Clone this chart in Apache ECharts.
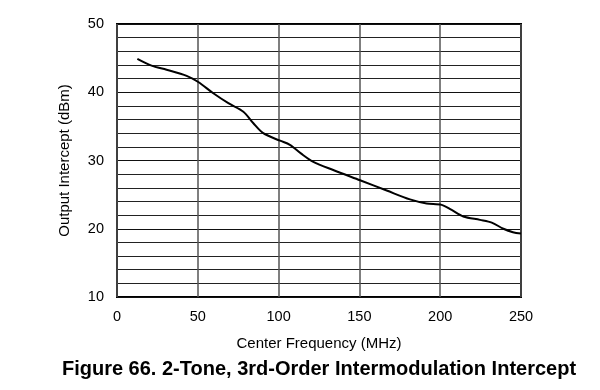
<!DOCTYPE html>
<html><head><meta charset="utf-8">
<script src="https://cdn.jsdelivr.net/npm/echarts@6/dist/echarts.min.js"></script>
<style>html,body{margin:0;padding:0;background:#fff}#c{width:600px;height:390px}</style>
</head><body><div id="c"></div>
<script>
const freqMHz = [12.6, 21.4, 30.7, 43.1, 50.3, 59.6, 68.9, 78.2, 84.4, 90.5, 100.9, 107, 114, 121.5, 133.8, 150.4, 166.9, 181.3, 191.6, 200.9, 207.1, 214.3, 224.6, 231.9, 239.1, 245, 250];
const interceptDbm = [44.9, 43.9, 43.3, 42.4, 41.5, 39.85, 38.4, 37.15, 35.45, 34.0, 32.9, 32.3, 31.0, 29.8, 28.6, 27.1, 25.6, 24.3, 23.7, 23.5, 22.75, 21.8, 21.3, 20.9, 20.0, 19.5, 19.3];
const xTicks = [0, 50, 100, 150, 200, 250];
const yTicks = [10, 20, 30, 40, 50];

const chart = echarts.init(document.getElementById('c'), null, {renderer: 'canvas'});
const font = 'Liberation Sans, Arial, sans-serif';
chart.setOption({
  animation: false,
  title: {
    text: 'Figure 66. 2-Tone, 3rd-Order Intermodulation Intercept',
    left: 314, top: 354, textAlign: 'center',
    textStyle: {fontFamily: font, fontSize: 20, fontWeight: 'bold', color: '#000'}
  },
  grid: {left: 117, right: 79, top: 24, bottom: 93, show: true, borderColor: '#000', borderWidth: 2, backgroundColor: 'transparent'},
  xAxis: {
    type: 'value', min: xTicks[0], max: xTicks[xTicks.length - 1], interval: 50,
    name: 'Center Frequency (MHz)', nameLocation: 'middle', nameGap: 39,
    nameTextStyle: {fontFamily: font, fontSize: 15, color: '#000'},
    axisLine: {show: false}, axisTick: {show: false},
    axisLabel: {fontFamily: font, fontSize: 14.5, color: '#000', margin: 12},
    splitLine: {show: true, lineStyle: {color: '#555', width: 1.5}}
  },
  yAxis: {
    type: 'value', min: yTicks[0], max: yTicks[yTicks.length - 1], interval: 10,
    name: 'Output Intercept (dBm)', nameLocation: 'middle', nameGap: 45,
    nameTextStyle: {fontFamily: font, fontSize: 15, color: '#000'},
    axisLine: {show: false}, axisTick: {show: false},
    axisLabel: {fontFamily: font, fontSize: 14.5, color: '#000', margin: 13},
    splitLine: {show: true, lineStyle: {color: '#111', width: 1}},
    minorTick: {show: false, splitNumber: 5},
    minorSplitLine: {show: true, lineStyle: {color: '#222', width: 1}}
  },
  series: [{
    type: 'line', smooth: 0.3, symbol: 'none',
    data: freqMHz.map((f, i) => [f, interceptDbm[i]]),
    lineStyle: {color: '#000', width: 2}
  }]
});
</script></body></html>
